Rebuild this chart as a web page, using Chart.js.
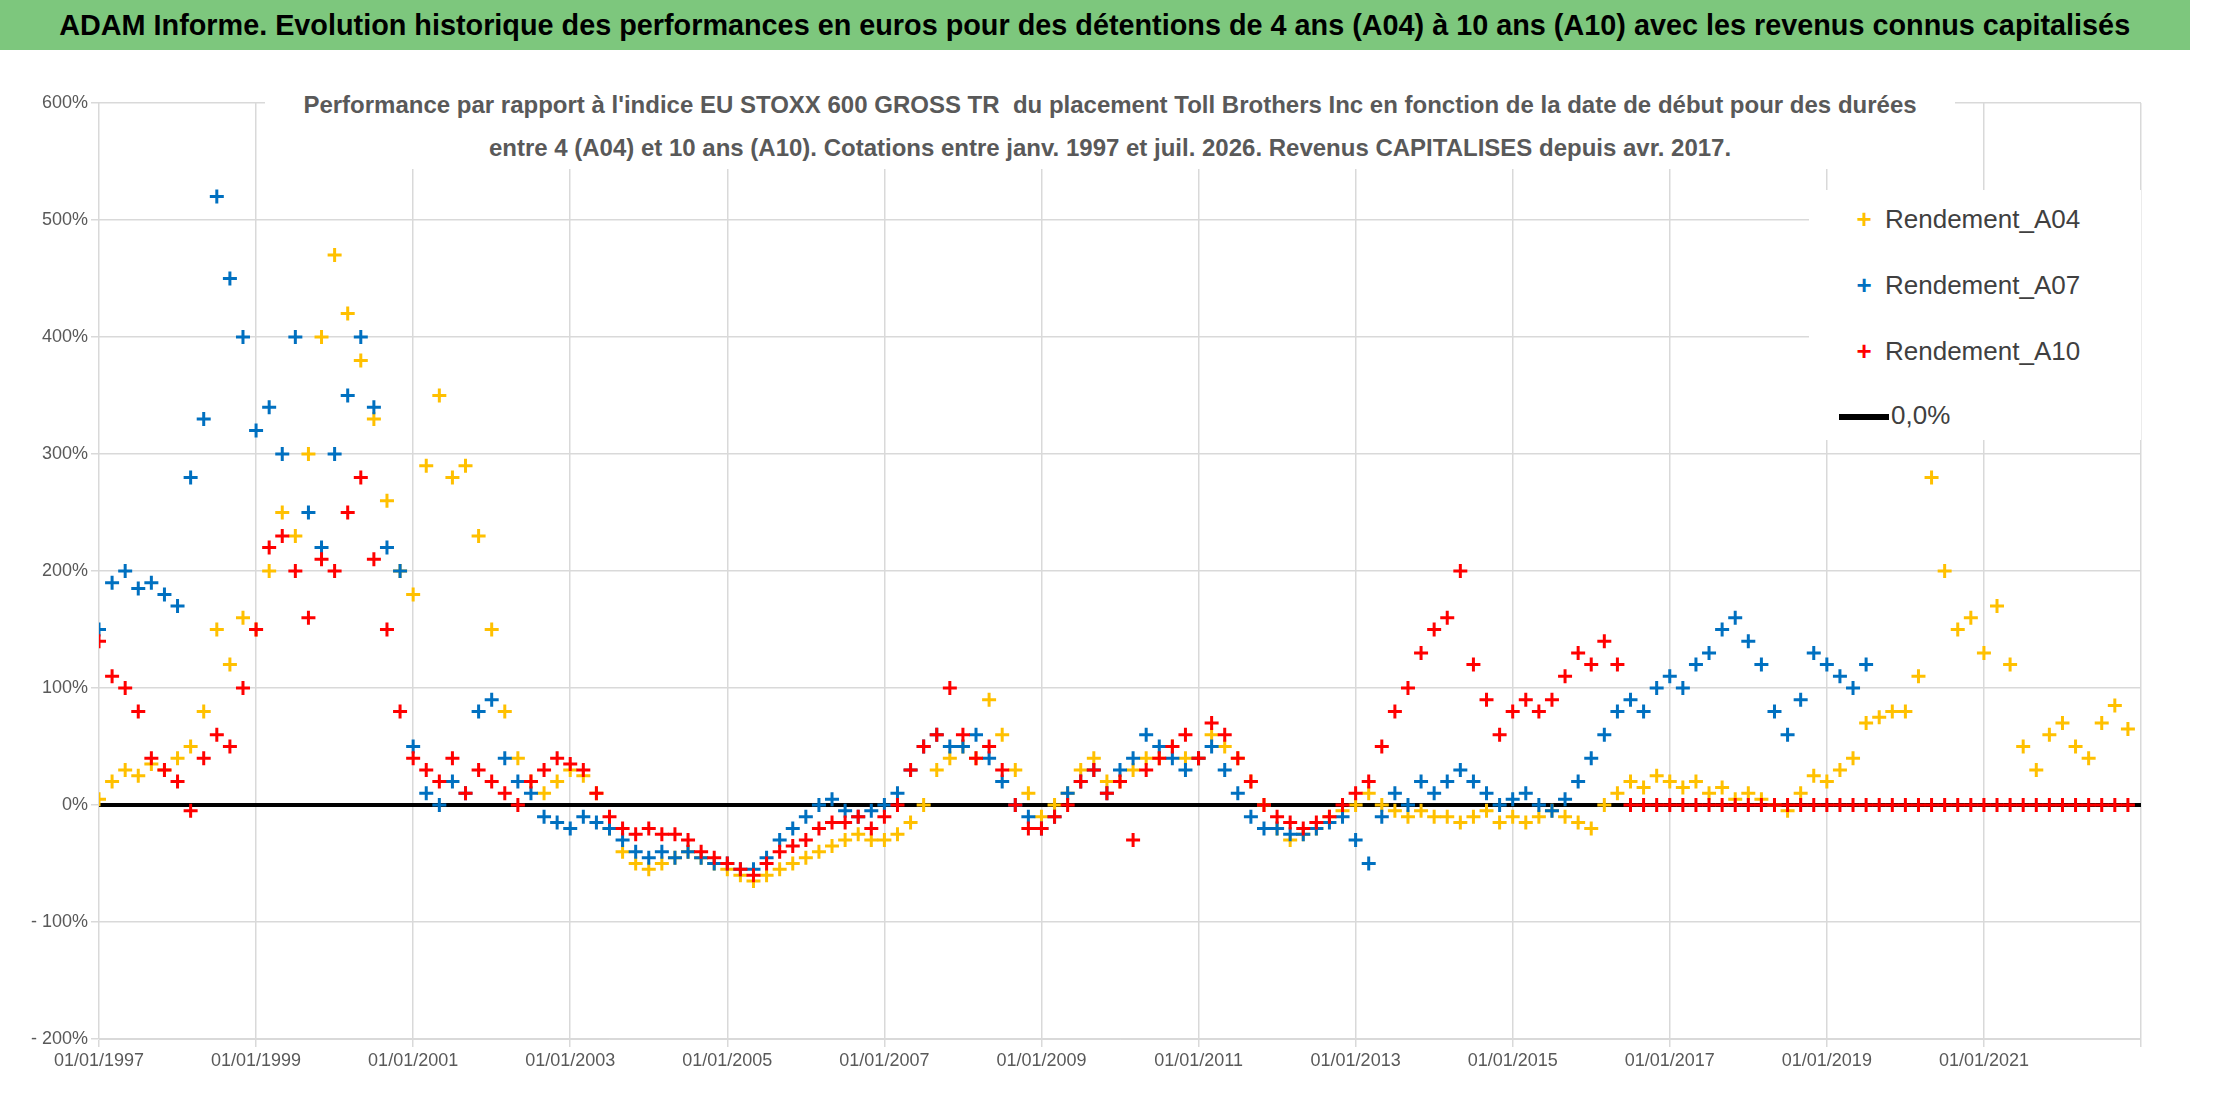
<!DOCTYPE html>
<html>
  <head>
    <meta charset="utf-8" />
    <title>ADAM Informe</title>
    <script src="https://cdn.jsdelivr.net/npm/chart.js@4.4.1/dist/chart.umd.min.js"></script>
    <style>
      body { margin: 0; width: 2216px; height: 1102px; background: #fff; overflow: hidden;
             font-family: "Liberation Sans Narrow", "Liberation Sans", sans-serif; }
      #bar { position: absolute; left: 0; top: 0; width: 2190px; height: 50px; background: #7dc77d;
             font-weight: bold; font-size: 30px; line-height: 50px; text-align: center; color: #000;
             white-space: nowrap; overflow: hidden; }
      #bar span { display: inline-block; transform: scaleX(0.96); transform-origin: center; }
      #wrap { position: absolute; left: 0; top: 50px; width: 2216px; height: 1052px; }
      #sub { position: absolute; left: 265px; top: 83px; width: 1690px; background: #fff;
             font-size: 24px; line-height: 43px; text-align: center; color: #595959; font-weight: bold;
             white-space: nowrap; }
      #legend { position: absolute; left: 1809px; top: 190px; width: 332px; height: 250px; background: #fff;
                font-size: 26px; color: #404040; }
      .item { position: absolute; left: 40px; }
      .mk { display: inline-block; width: 30px; text-align: center; margin-right: 6px; font-weight: bold; }
    </style>
  </head>
  <body>
    <div id="bar"><span>ADAM Informe. Evolution historique des performances en euros pour des détentions de 4 ans (A04) à 10 ans (A10) avec les revenus connus capitalisés</span></div>
    <div id="wrap"><canvas id="myChart"></canvas></div>
    <div id="sub">Performance par rapport à l'indice EU STOXX 600 GROSS TR&nbsp; du placement Toll Brothers Inc en fonction de la date de début pour des durées<br>entre 4 (A04) et 10 ans (A10). Cotations entre janv. 1997 et juil. 2026. Revenus CAPITALISES depuis avr. 2017.</div>
    <div id="legend">
      <div class="item" style="top:14px"><span class="mk" style="color:#FFC000">+</span>Rendement_A04</div>
      <div class="item" style="top:80px"><span class="mk" style="color:#0070C0">+</span>Rendement_A07</div>
      <div class="item" style="top:146px"><span class="mk" style="color:#FF0000">+</span>Rendement_A10</div>
      <div class="item" style="top:210px;left:30px"><span style="display:inline-block;width:50px;height:6px;background:#000;vertical-align:middle;margin-right:2px"></span>0,0%</div>
    </div>
    <script>
      // one value every two months, starting 01/01/1997
      const startYear = 1997;
      const step = 1 / 6;

      const a04 = [
        5, 20, 30, 25, 35, 30,
        40, 50, 80, 150, 120, 160,
        150, 200, 250, 230, 300, 400,
        470, 420, 380, 330, 260, 200,
        180, 290, 350, 280, 290, 230,
        150, 80, 40, 20, 10, 20,
        30, 25, 10, -20, -40, -50,
        -55, -50, -45, -40, -45, -50,
        -55, -60, -65, -60, -55, -50,
        -45, -40, -35, -30, -25, -30,
        -30, -25, -15, 0, 30, 40,
        50, 40, 90, 60, 30, 10,
        -10, 0, 10, 30, 40, 20,
        20, 30, 40, 40, 50, 40,
        40, 60, 50, 40, 20, 0,
        -20, -30, -25, -20, -10, -5,
        0, 10, 0, -5, -10, -5,
        -10, -10, -15, -10, -5, -15,
        -10, -15, -10, -5, -10, -15,
        -20, 0, 10, 20, 15, 25,
        20, 15, 20, 10, 15, 5,
        10, 5, 0, -5, 10, 25,
        20, 30, 40, 70, 75, 80,
        80, 110, 280, 200, 150, 160,
        130, 170, 120, 50, 30, 60,
        70, 50, 40, 70, 85, 65
      ];
      const a07 = [
        150, 190, 200, 185, 190, 180,
        170, 280, 330, 520, 450, 400,
        320, 340, 300, 400, 250, 220,
        300, 350, 400, 340, 220, 200,
        50, 10, 0, 20, 10, 80,
        90, 40, 20, 10, -10, -15,
        -20, -10, -15, -20, -30, -40,
        -45, -40, -45, -40, -45, -50,
        -50, -55, -55, -45, -30, -20,
        -10, 0, 5, -5, -10, -5,
        0, 10, 30, 50, 60, 50,
        50, 60, 40, 20, 0, -10,
        -20, -10, 10, 20, 30, 10,
        30, 40, 60, 50, 40, 30,
        40, 50, 30, 10, -10, -20,
        -20, -25, -25, -20, -15, -10,
        -30, -50, -10, 10, 0, 20,
        10, 20, 30, 20, 10, 0,
        5, 10, 0, -5, 5, 20,
        40, 60, 80, 90, 80, 100,
        110, 100, 120, 130, 150, 160,
        140, 120, 80, 60, 90, 130,
        120, 110, 100, 120
      ];
      const a10 = [
        140, 110, 100, 80, 40, 30,
        20, -5, 40, 60, 50, 100,
        150, 220, 230, 200, 160, 210,
        200, 250, 280, 210, 150, 80,
        40, 30, 20, 40, 10, 30,
        20, 10, 0, 20, 30, 40,
        35, 30, 10, -10, -20, -25,
        -20, -25, -25, -30, -40, -45,
        -50, -55, -60, -50, -40, -35,
        -30, -20, -15, -15, -10, -20,
        -10, 0, 30, 50, 60, 100,
        60, 40, 50, 30, 0, -20,
        -20, -10, 0, 20, 30, 10,
        20, -30, 30, 40, 50, 60,
        40, 70, 60, 40, 20, 0,
        -10, -15, -20, -15, -10, 0,
        10, 20, 50, 80, 100, 130,
        150, 160, 200, 120, 90, 60,
        80, 90, 80, 90, 110, 130,
        120, 140, 120,
        // no known A10 return after mid-2016: plotted at 0
        0, 0, 0,
        0, 0, 0, 0, 0, 0,
        0, 0, 0, 0, 0, 0,
        0, 0, 0, 0, 0, 0,
        0, 0, 0, 0, 0, 0,
        0, 0, 0, 0, 0, 0,
        0, 0, 0, 0, 0, 0
      ];
      const yTicks = [-200, -100, 0, 100, 200, 300, 400, 500, 600];

      const pts = arr => arr.map((v, i) => ({ x: startYear + i * step, y: v }));
      const series = (label, arr, color, order) => ({
        label, data: pts(arr), order, showLine: false,
        pointStyle: 'cross', pointRadius: 7, borderWidth: 3,
        borderColor: color, backgroundColor: color
      });

      new Chart(document.getElementById('myChart'), {
        type: 'scatter',
        data: {
          datasets: [
            series('Rendement_A04', a04, '#FFC000', 2),
            series('Rendement_A07', a07, '#0070C0', 1),
            series('Rendement_A10', a10, '#FF0000', 0),
            { label: '0,0%', type: 'line', order: 3, data: [{ x: 1997, y: 0 }, { x: 2023, y: 0 }],
              borderColor: '#000', borderWidth: 4, pointRadius: 0 }
          ]
        },
        options: {
          responsive: true, maintainAspectRatio: false, animation: false,
          layout: { padding: { left: 0, right: 75, top: 53, bottom: 0 } },
          plugins: { legend: { display: false }, tooltip: { enabled: false } },
          scales: {
            x: {
              type: 'linear', min: 1997, max: 2023,
              afterFit: s => { s.height = 63; },
              ticks: { stepSize: 2, color: '#595959', font: { size: 18 },
                       callback: v => v < 2023 ? '01/01/' + v : '' },
              grid: { color: '#d9d9d9', lineWidth: 1.5 }, border: { color: '#d9d9d9' }
            },
            y: {
              min: -200, max: 600,
              afterFit: s => { s.width = 99; },
              afterBuildTicks: s => { s.ticks = yTicks.map(v => ({ value: v })); },
              ticks: { color: '#595959', font: { size: 18 },
                       callback: v => (v < 0 ? '- ' + (-v) : v) + '%' },
              grid: { color: '#d9d9d9', lineWidth: 1.5 }, border: { display: false }
            }
          }
        }
      });
    </script>
  </body>
</html>
